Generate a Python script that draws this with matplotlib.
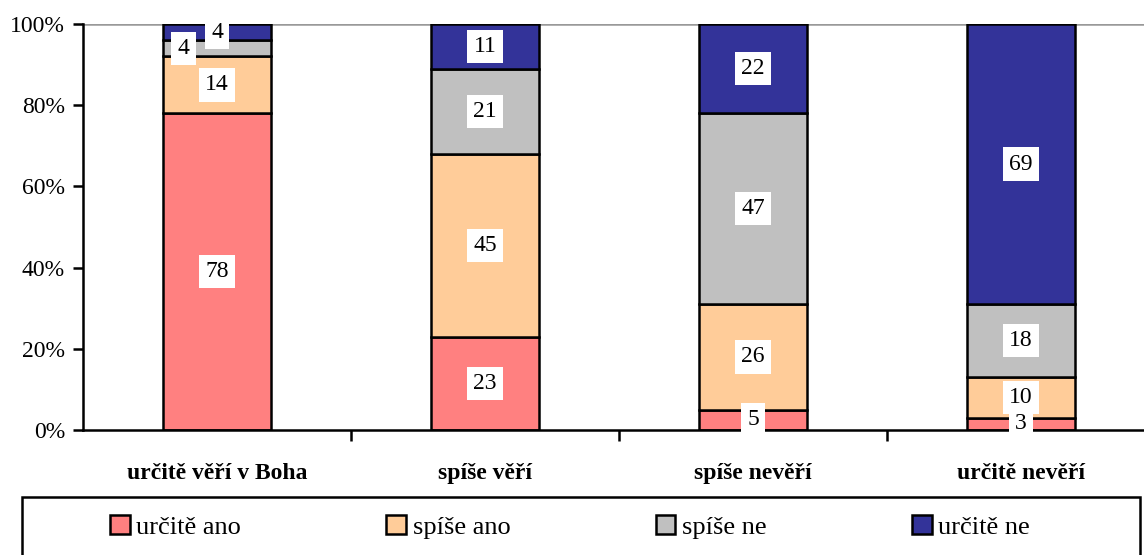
import numpy as np
import matplotlib.pyplot as plt
from matplotlib.patches import Patch, Rectangle

plt.rcParams['font.family'] = ['Liberation Serif', 'DejaVu Serif']

kategorie = ['určitě věří v Boha', 'spíše věří', 'spíše nevěří', 'určitě nevěří']
odpovedi = ['určitě ano', 'spíše ano', 'spíše ne', 'určitě ne']
urcite_ano = [78, 23, 5, 3]
spise_ano = [14, 45, 26, 10]
spise_ne = [4, 21, 47, 18]
urcite_ne = [4, 11, 22, 69]
barvy = ['#FF8080', '#FFCC99', '#C0C0C0', '#333399']

serie = [urcite_ano, spise_ano, spise_ne, urcite_ne]

fig = plt.figure(figsize=(11.44, 5.55), dpi=100)
ax = fig.add_axes([83 / 1144, 125 / 555, 1072 / 1144, 406 / 555])

x = np.arange(len(kategorie))
spodek = np.zeros(len(kategorie))
for hodnoty, barva in zip(serie, barvy):
    h = np.array(hodnoty, dtype=float)
    ax.bar(x, h, bottom=spodek, width=0.4, color=barva, edgecolor='black',
           linewidth=1.8, zorder=2)
    for i, v in enumerate(h):
        dx = 0
        # v malém segmentu posunul Excel popisek doleva
        if i == 0 and barva == '#C0C0C0':
            dx = -0.125
        ax.text(x[i] + dx, spodek[i] + v / 2, f'{int(v)}', ha='center', va='center',
                fontsize=17, zorder=4,
                bbox=dict(facecolor='white', edgecolor='none', pad=4.5))
    spodek += h

ax.axhline(100, color='#999999', linewidth=1.8, zorder=1)
ax.set_xlim(-0.5, 3.5)
ax.set_ylim(0, 100)
ax.set_yticks(range(0, 101, 20))
ax.set_yticklabels([f'{t}%' for t in range(0, 101, 20)], fontsize=17)
ax.set_xticks(x)
ax.set_xticklabels(kategorie, fontsize=17, fontweight='bold')
ax.tick_params(axis='x', which='major', length=0, pad=24)
ax.set_xticks([0.5, 1.5, 2.5], minor=True)
ax.tick_params(axis='x', which='minor', length=8, width=1.8, direction='out')
ax.tick_params(axis='y', length=7, width=1.8, direction='out', pad=6)
for s in ['top', 'right']:
    ax.spines[s].set_visible(False)
for s in ['left', 'bottom']:
    ax.spines[s].set_linewidth(1.8)

# rámeček legendy přes celou šířku (spodní okraj je oříznutý)
fig.add_artist(Rectangle((22 / 1144, -0.02), 1118 / 1144, 1 - 497 / 555 + 0.02,
                         transform=fig.transFigure, facecolor='white',
                         edgecolor='black', linewidth=1.8))

handles = [Patch(facecolor=c, edgecolor='black', linewidth=1.8) for c in barvy]
leg = fig.legend(handles, odpovedi, loc='center', ncol=4,
                 bbox_to_anchor=(570 / 1144, 1 - 527 / 555),
                 prop={'family': 'Liberation Serif', 'size': 19},
                 frameon=False, handlelength=0.75,
                 handleheight=0.75, handletextpad=0.25, columnspacing=5.5)

fig.savefig('out.png', dpi=100)
